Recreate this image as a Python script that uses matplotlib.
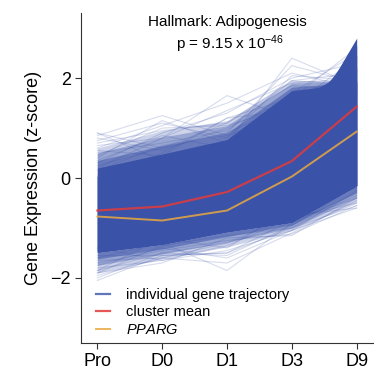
import matplotlib
matplotlib.use("Agg")
import matplotlib.pyplot as plt

plt.rcParams['font.family'] = ['Liberation Sans', 'DejaVu Sans']
plt.rcParams['mathtext.fontset'] = 'custom'
plt.rcParams['mathtext.rm'] = 'Liberation Sans'
plt.rcParams['mathtext.it'] = 'Liberation Sans:italic'

timepoints = ["Pro", "D0", "D1", "D3", "D9"]

# cluster mean and PPARG (z-score)
cluster_mean = [-0.65, -0.57, -0.28, 0.34, 1.43]
pparg = [-0.77, -0.85, -0.65, 0.03, 0.93]

# envelopes of the dense mass of gene trajectories (lower, upper)
outer_lo = [-1.90, -1.62, -1.38, -1.05, -0.50]
outer_hi = [0.60, 0.95, 1.15, 1.95, 1.95]
mid_lo = [-1.75, -1.52, -1.28, -1.00, -0.40]
mid_hi = [0.50, 0.82, 1.05, 1.90, 1.95]
inner_lo = [-1.62, -1.42, -1.17, -0.94, -0.28]
inner_hi = [0.35, 0.65, 0.90, 1.82, 1.92]
core_lo = [-1.48, -1.32, -1.07, -0.88, -0.15]
core_hi_a = [0.20, 0.48, 0.77, 1.75, 1.90]
core_hi_b = [0.10, 0.40, 0.65, 1.55, 2.20]
core_hi_c = [0.05, 0.30, 0.55, 1.25, 2.45]
core_hi_d = [0.02, 0.25, 0.48, 0.95, 2.65]
core_hi_e = [0.00, 0.20, 0.40, 0.60, 2.80]

# faint individual trajectories near the edges
trajectories = [
    [0.90, 0.35, 0.60, 1.20, 1.80],
    [0.85, 1.25, 0.85, 1.30, 1.90],
    [0.40, 1.15, 0.70, 2.40, 1.85],
    [0.20, 0.80, 1.65, 1.20, 1.90],
    [0.60, 1.05, 1.50, 2.10, 1.80],
    [0.30, 0.90, 1.30, 2.00, 2.30],
    [0.00, 0.50, 1.20, 1.60, 2.60],
    [0.70, 0.95, 1.10, 1.85, 1.75],
    [0.50, 0.70, 0.95, 1.95, 2.10],
    [0.90, 0.60, 0.90, 1.50, 1.70],
    [0.75, 1.10, 0.80, 2.05, 1.95],
    [0.55, 0.45, 1.20, 1.35, 2.20],
    [0.35, 0.85, 0.60, 1.70, 2.50],
    [0.65, 0.80, 1.35, 1.90, 2.00],
    [0.15, 0.65, 0.90, 2.25, 1.90],
    [0.80, 0.55, 1.00, 1.60, 2.15],
    [0.45, 1.00, 1.05, 1.45, 2.40],
    [0.25, 0.60, 1.10, 1.95, 1.85],
    [-2.05, -1.55, -1.50, -1.00, -0.55],
    [-1.90, -1.70, -1.20, -1.15, -0.40],
    [-1.60, -1.30, -1.85, -0.90, -0.30],
    [-1.75, -1.40, -1.60, -1.05, -0.60],
    [-1.40, -1.65, -1.35, -0.80, -0.50],
    [-1.85, -1.20, -1.40, -0.60, -0.20],
    [-1.95, -1.60, -1.70, -1.10, -0.45],
    [-2.00, -1.50, -1.30, -0.95, -0.35],
    [-1.80, -1.65, -1.45, -1.05, -0.25],
    [-1.70, -1.45, -1.25, -1.12, -0.55],
    [-1.55, -1.55, -1.50, -0.85, -0.40],
    [-1.90, -1.35, -1.15, -1.00, -0.30],
    [-1.65, -1.60, -1.30, -0.75, -0.60],
    [-1.85, -1.50, -1.55, -0.95, -0.15],
]

blue = "#3a52a8"
red = "#e23b3b"
gold = "#eaa93e"

fig = plt.figure(figsize=(3.74, 3.76), dpi=100)
ax = fig.add_axes([0.217, 0.088, 0.78, 0.877])
x = range(len(timepoints))

for tr in trajectories:
    ax.plot(x, tr, color=blue, alpha=0.2, lw=0.8)
ax.fill_between(x, outer_lo, outer_hi, color=blue, alpha=0.25, lw=0)
ax.fill_between(x, mid_lo, mid_hi, color=blue, alpha=0.35, lw=0)
ax.fill_between(x, inner_lo, inner_hi, color=blue, alpha=0.5, lw=0)
for hi in (core_hi_a, core_hi_b, core_hi_c, core_hi_d, core_hi_e):
    ax.fill_between(x, core_lo, hi, color=blue, alpha=1.0, lw=0)

ax.plot([], [], color=blue, lw=1.6, alpha=0.8, label="individual gene trajectory")
ax.plot(x, cluster_mean, color=red, lw=1.6, alpha=0.85, label="cluster mean")
ax.plot(x, pparg, color=gold, lw=1.4, alpha=0.85, label="$\\it{PPARG}$")

ax.set_xlim(-0.25, 4.25)
ax.set_ylim(-3.3, 3.3)
ax.set_xticks(list(x))
ax.set_xticklabels(timepoints)
ax.set_yticks([-2, 0, 2])
ax.tick_params(labelsize=13, length=4, color="#333333")
for s in ("top", "right"):
    ax.spines[s].set_visible(False)
for s in ("left", "bottom"):
    ax.spines[s].set_color("#333333")
ax.set_ylabel("Gene Expression (z-score)", fontsize=13, labelpad=6)

ax.text(0.5, 0.995, "Hallmark: Adipogenesis", transform=ax.transAxes,
        ha="center", va="top", fontsize=11)
ax.text(0.51, 0.94, "p = 9.15 x 10$^{-46}$", transform=ax.transAxes,
        ha="center", va="top", fontsize=11)

ax.legend(loc="lower left", frameon=False, fontsize=10.5, handlelength=1.0,
          handletextpad=1.1, labelspacing=0.25, borderaxespad=0.0,
          bbox_to_anchor=(0.03, 0.0))

fig.savefig("out.png", dpi=100)
